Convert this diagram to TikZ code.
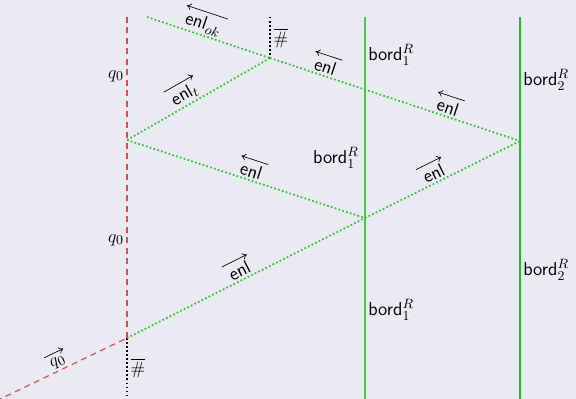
\documentclass[tikz,border=0pt]{standalone}
\usepackage{amsmath}
\usetikzlibrary{calc,arrows.meta}
\definecolor{bgc}{RGB}{234,234,242}
\definecolor{redl}{RGB}{232,70,70}
\definecolor{greenl}{RGB}{40,200,40}
\definecolor{greenv}{RGB}{80,200,80}
\definecolor{greenw}{RGB}{40,185,40}
\newcommand\arrLeft[1]{\draw[labarr,{To[length=3pt,width=4.5pt]}-] ($(#1.north west)!1.2pt!90:(#1.north east)$) -- ($(#1.north east)!1.2pt!-90:(#1.north west)$);}
\newcommand\arrRight[1]{\draw[labarr,-{To[length=3pt,width=4.5pt]}] ($(#1.north west)!1.2pt!90:(#1.north east)$) -- ($(#1.north east)!1.2pt!-90:(#1.north west)$);}
\begin{document}
\begin{tikzpicture}[x=0.6667pt,y=-0.6667pt,
  every node/.style={font=\fontsize{12.5}{15}\selectfont},
  reddash/.style={draw=redl,line width=0.75pt,dash pattern=on 4pt off 3pt},
  blackdot/.style={draw=black,line width=1pt,dash pattern=on 1pt off 1.7pt},
  greendot/.style={draw=greenl,line width=1.15pt,dash pattern=on 1.15pt off 1.5pt},
  labarr/.style={draw=black,line width=0.45pt},
  lbl/.style={sloped,above,inner ysep=1.3pt,inner xsep=1.5pt},
  bordl/.style={anchor=west,inner sep=2pt}]
\fill[bgc] (0,0) rectangle (576,399);
\useasboundingbox (0,0) rectangle (576,399);
% points
\coordinate (G) at (-4,401);
\coordinate (A) at (127,338);
\coordinate (Abot) at (127,399);
\coordinate (Atop) at (127,17);
\coordinate (D) at (127,140);
\coordinate (E) at (270,58);
\coordinate (Etop) at (270,17);
\coordinate (F) at (147,17);
\coordinate (B) at (365,218);
\coordinate (C) at (520,141);
\coordinate (V1t) at (365,17);
\coordinate (V1b) at (365,399);
\coordinate (V2t) at (520,17);
\coordinate (V2b) at (520,399);
% vertical lines
\draw[reddash] (Atop) -- (A);
\draw[reddash] (G) -- node[lbl,pos=0.5,text=black] (lq) {$q_0$} (A);
\draw[blackdot] (A) -- (Abot);
\draw[blackdot] (Etop) -- (E);
\draw[greenv,line width=0.8pt] (V1t) -- (V1b);
\draw[greenw,line width=1.3pt] (V2t) -- (V2b);
% green dotted
\draw[greendot] (F) -- node[lbl,pos=0.43] (l1) {\textsf{enl}$_{ok}$} (E);
\draw[greendot] (E) -- node[lbl,pos=0.21] (l2) {\textsf{enl}} node[lbl,pos=0.70] (l3) {\textsf{enl}} (C);
\draw[greendot] (D) -- node[lbl,pos=0.44] (l4) {\textsf{enl}$_t$} (E);
\draw[greendot] (D) -- node[lbl,pos=0.51] (l5) {\textsf{enl}} (B);
\draw[greendot] (B) -- node[lbl,pos=0.47] (l6) {\textsf{enl}} (C);
\draw[greendot] (A) -- node[lbl,pos=0.49] (l7) {\textsf{enl}} (B);
\arrRight{lq}
\arrLeft{l1}
\arrLeft{l2}
\arrLeft{l3}
\arrRight{l4}
\arrLeft{l5}
\arrRight{l6}
\arrRight{l7}
% labels
\node (q0a) at (116,76) {$q_0$};
\node (q0b) at (116,240) {$q_0$};
\node (h1) at (281,38) {$\overline{\#}$};
\node (h2) at (138,368) {$\overline{\#}$};
\node[bordl] (b1) at (365,55) {\textsf{bord}$_1^R$};
\node[bordl] (b2) at (520,80) {\textsf{bord}$_2^R$};
\node[anchor=east,inner sep=2pt] (b3) at (362,158) {\textsf{bord}$_1^R$};
\node[bordl] (b4) at (365,310) {\textsf{bord}$_1^R$};
\node[bordl] (b5) at (520,270) {\textsf{bord}$_2^R$};
\end{tikzpicture}
\end{document}
